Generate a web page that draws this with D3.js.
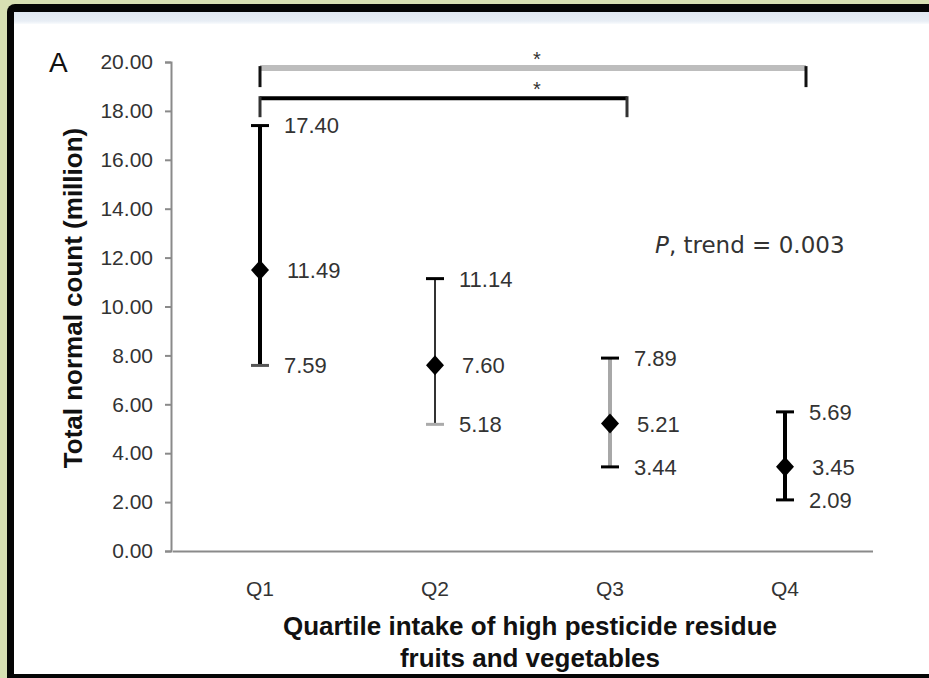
<!DOCTYPE html>
<html>
<head>
<meta charset="utf-8">
<style>
body{ margin:0; background:#d7dfb3; }
svg text{ font-family:"Liberation Sans", Arial, sans-serif; }
</style>
<script src="https://cdn.jsdelivr.net/npm/d3@7/dist/d3.min.js"></script>
</head>
<body>
<svg id="chart" width="929" height="678"></svg>
<script>
// data
var quartiles = ["Q1", "Q2", "Q3", "Q4"];
var means     = [11.49, 7.60, 5.21, 3.45];
var lowers    = [7.59, 5.18, 3.44, 2.09];
var uppers    = [17.40, 11.14, 7.89, 5.69];
var yTicks    = [0, 2, 4, 6, 8, 10, 12, 14, 16, 18, 20];
var brackets  = [{from:"Q1", to:"Q4", level:19.75, mark:"*"},
                 {from:"Q1", to:"Q3", level:18.52, mark:"*"}];
var trendText = "0.003";

var svg = d3.select("#chart");

// frame around the figure
svg.append("rect").attr("width", 929).attr("height", 678).attr("fill", "#d7dfb3");
svg.append("rect").attr("x", 7).attr("y", 4).attr("width", 960).attr("height", 700)
    .attr("rx", 8).attr("fill", "#050505");
svg.append("rect").attr("x", 14).attr("y", 12).attr("width", 930).attr("height", 662)
    .attr("fill", "#fff");
var grad = svg.append("defs").append("linearGradient").attr("id", "strip")
    .attr("x1", 0).attr("y1", 0).attr("x2", 0).attr("y2", 1);
grad.append("stop").attr("offset", "0%").attr("stop-color", "#e1e8f1");
grad.append("stop").attr("offset", "75%").attr("stop-color", "#e8eef5");
grad.append("stop").attr("offset", "100%").attr("stop-color", "#f9fbfd");
svg.append("rect").attr("x", 14).attr("y", 12).attr("width", 930).attr("height", 12)
    .attr("fill", "url(#strip)");

var x = d3.scaleBand().domain(quartiles).range([172.5, 872.5]);
var y = d3.scaleLinear().domain([0, 20]).range([551, 62]);
function cx(q){ return x(q) + x.bandwidth() / 2; }

// y axis
var yAxis = svg.append("g").attr("transform", "translate(171,0)")
    .call(d3.axisLeft(y).tickValues(yTicks).tickFormat(d3.format(".2f")).tickSize(6).tickPadding(12));
yAxis.select(".domain").attr("stroke", "#8a8a8a").attr("stroke-width", 2);
yAxis.selectAll(".tick line").attr("stroke", "#8a8a8a").attr("stroke-width", 2);
yAxis.selectAll(".tick text").attr("font-size", 21).attr("fill", "#333")
    .attr("font-family", "Liberation Sans, Arial, sans-serif");

// x axis
var xAxis = svg.append("g").attr("transform", "translate(0,551)")
    .call(d3.axisBottom(x).tickSize(0).tickPadding(30));
xAxis.select(".domain").attr("stroke", "#8a8a8a").attr("stroke-width", 2);
xAxis.selectAll(".tick text").attr("font-size", 21).attr("fill", "#333")
    .attr("font-family", "Liberation Sans, Arial, sans-serif");

// error bars
var lineColor = ["#000", "#333", "#a8a8a8", "#000"];
var lineWidth = [4, 2, 4, 4];
var lowCap = ["#555", "#aaa", "#000", "#000"];
var rows = quartiles.map(function(q, i){
    return {q:q, m:means[i], lo:lowers[i], hi:uppers[i], i:i};
});

var g = svg.append("g");
g.selectAll(".bar").data(rows).enter().append("line")
    .attr("x1", function(d){ return cx(d.q); }).attr("x2", function(d){ return cx(d.q); })
    .attr("y1", function(d){ return y(d.lo); }).attr("y2", function(d){ return y(d.hi); })
    .attr("stroke", function(d){ return lineColor[d.i]; })
    .attr("stroke-width", function(d){ return lineWidth[d.i]; });
g.selectAll(".capHi").data(rows).enter().append("line")
    .attr("x1", function(d){ return cx(d.q) - 9; }).attr("x2", function(d){ return cx(d.q) + 9; })
    .attr("y1", function(d){ return y(d.hi); }).attr("y2", function(d){ return y(d.hi); })
    .attr("stroke", "#000").attr("stroke-width", 3);
g.selectAll(".capLo").data(rows).enter().append("line")
    .attr("x1", function(d){ return cx(d.q) - 9; }).attr("x2", function(d){ return cx(d.q) + 9; })
    .attr("y1", function(d){ return y(d.lo); }).attr("y2", function(d){ return y(d.lo); })
    .attr("stroke", function(d){ return lowCap[d.i]; }).attr("stroke-width", 3);
g.selectAll(".pt").data(rows).enter().append("path")
    .attr("d", function(d){
        var px = cx(d.q), py = y(d.m);
        return "M" + px + "," + (py - 10) + "L" + (px + 9) + "," + py + "L" + px + "," + (py + 10) +
               "L" + (px - 9) + "," + py + "Z";
    })
    .attr("fill", "#000");

// value labels
var labels = [];
rows.forEach(function(d){
    labels.push({q:d.q, v:d.hi, dx:24});
    labels.push({q:d.q, v:d.m, dx:27});
    labels.push({q:d.q, v:d.lo, dx:24});
});
g.selectAll(".lab").data(labels).enter().append("text")
    .attr("x", function(d){ return cx(d.q) + d.dx; })
    .attr("y", function(d){ return y(d.v); })
    .attr("dy", "0.36em")
    .attr("font-size", 22).attr("fill", "#333")
    .text(function(d){ return d3.format(".2f")(d.v); });

// significance brackets
var bg = svg.append("g");
brackets.forEach(function(b, i){
    var x1 = cx(b.from), x2 = cx(b.to) + (i === 0 ? 21 : 17), by = y(b.level);
    bg.append("line").attr("x1", x1).attr("x2", x2).attr("y1", by).attr("y2", by)
        .attr("stroke", i === 0 ? "#bdbdbd" : "#000").attr("stroke-width", i === 0 ? 6 : 4);
    [x1, x2].forEach(function(xx){
        bg.append("line").attr("x1", xx).attr("x2", xx).attr("y1", by - 2).attr("y2", by + 19)
            .attr("stroke", i === 0 ? "#111" : "#333").attr("stroke-width", 3);
    });
    bg.append("text").attr("x", 537).attr("y", by - 2).attr("text-anchor", "middle")
        .attr("font-size", 20).attr("fill", "#333").text(b.mark);
});

// P trend
var pt = svg.append("text").attr("x", 655).attr("y", 245).attr("dy", "0.36em")
    .attr("font-size", 23).attr("fill", "#333")
    .style("font-family", "DejaVu Sans, sans-serif");
pt.append("tspan").attr("font-style", "italic").text("P");
pt.append("tspan").text(", trend = " + trendText);

// panel letter
svg.append("text").attr("x", 49).attr("y", 72).attr("font-size", 28).attr("fill", "#111").text("A");

// axis titles
svg.append("text").attr("transform", "translate(73,298) rotate(-90)")
    .attr("text-anchor", "middle").attr("dy", "0.36em")
    .attr("font-size", 26).attr("font-weight", "bold").attr("fill", "#111")
    .text("Total normal count (million)");
svg.append("text").attr("x", 530).attr("y", 626).attr("dy", "0.36em").attr("text-anchor", "middle")
    .attr("font-size", 26).attr("font-weight", "bold").attr("fill", "#111")
    .text("Quartile intake of high pesticide residue");
svg.append("text").attr("x", 530).attr("y", 658).attr("dy", "0.36em").attr("text-anchor", "middle")
    .attr("font-size", 26).attr("font-weight", "bold").attr("fill", "#111")
    .text("fruits and vegetables");
</script>
</body>
</html>
